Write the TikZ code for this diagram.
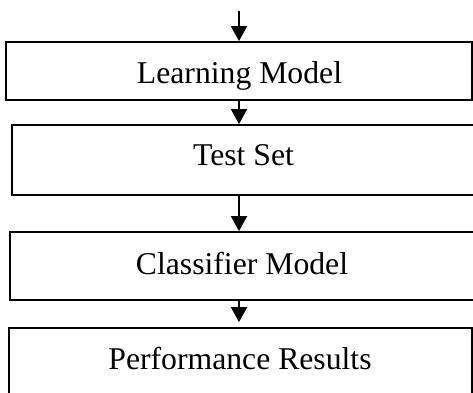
\documentclass[tikz,border=0pt]{standalone}
\usepackage{fontspec}
\setmainfont{Liberation Serif}
\usetikzlibrary{arrows.meta}
\begin{document}
\begin{tikzpicture}[x=1pt,y=1pt,
  stagebox/.style={draw=black, line width=1.8pt, rectangle, inner sep=0pt, fill=white},
  stagetext/.style={anchor=base, inner sep=0pt, font=\fontsize{31.7}{38}\selectfont},
  flow/.style={line width=2pt, -{Triangle[width=16pt,length=15pt]}}]
  \clip (0,0) rectangle (473,392);
  \fill[white] (0,0) rectangle (473,392);

  % column of the flow arrows
  \coordinate (ax) at (239,0);
  \coordinate (entry) at (239,381);

  % stage boxes
  \node[stagebox, minimum width=466pt, minimum height=58pt] (box1) at (239,321) {};
  \node[stagebox, minimum width=478pt, minimum height=70pt] (box2) at (251,232) {};
  \node[stagebox, minimum width=480pt, minimum height=68pt] (box3) at (250,126) {};
  \node[stagebox, minimum width=463pt, minimum height=74pt] (box4) at (240.5,27) {};

  % stage labels
  \node[stagetext] (t1) at (239.5,308.7) {Learning Model};
  \node[stagetext] (t2) at (243.5,226.3) {Test Set};
  \node[stagetext] (t3) at (242,117.5) {Classifier Model};
  \node[stagetext] (t4) at (240,23) {Performance Results};

  % flow arrows
  \draw[flow] (entry) -- (box1.north -| ax);
  \draw[flow] (box1.south -| ax) -- (box2.north -| ax);
  \draw[flow] (box2.south -| ax) -- (box3.north -| ax);
  \draw[flow, shorten >=5pt] (box3.south -| ax) -- (box4.north -| ax);
\end{tikzpicture}
\end{document}
